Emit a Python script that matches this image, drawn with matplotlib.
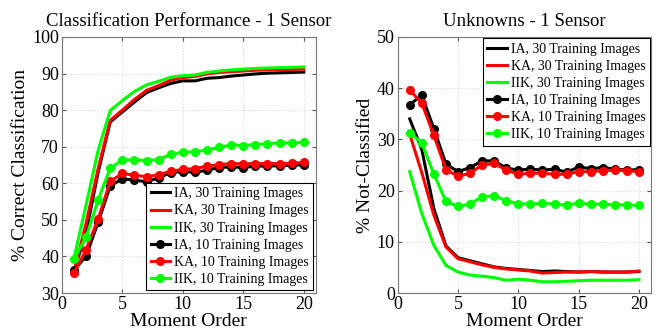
import numpy as np
import matplotlib
matplotlib.use('agg')
from matplotlib import pyplot as plt

plt.rcParams['font.family'] = ['Liberation Serif', 'DejaVu Serif']

# moment orders
order = np.arange(1, 21)

# left panel: % correct classification
cc_ia30 = [36.0, 46.5, 63.0, 76.8, 79.5, 82.2, 84.8, 86.1, 87.3, 88.0,
           88.0, 88.7, 88.9, 89.3, 89.6, 89.9, 90.1, 90.2, 90.3, 90.4]
cc_ka30 = [35.8, 49.0, 64.0, 77.2, 80.0, 82.9, 85.4, 86.7, 88.2, 88.9,
           89.2, 89.9, 90.3, 90.5, 90.7, 90.9, 91.0, 91.1, 91.1, 91.2]
cc_iik30 = [39.5, 54.0, 69.0, 79.9, 82.6, 85.1, 86.9, 87.9, 89.0, 89.4,
            89.6, 90.3, 90.7, 91.0, 91.2, 91.4, 91.5, 91.6, 91.7, 91.8]
cc_ia10 = [36.2, 40.1, 49.3, 59.3, 61.2, 60.9, 60.4, 61.5, 62.9, 63.2,
           63.0, 63.6, 64.3, 64.5, 64.3, 64.7, 64.7, 64.8, 65.0, 65.0]
cc_ka10 = [35.4, 41.8, 50.2, 60.5, 62.7, 62.2, 61.8, 62.3, 63.3, 63.8,
           64.0, 64.7, 65.1, 65.4, 65.3, 65.4, 65.4, 65.4, 65.5, 65.7]
cc_iik10 = [39.3, 45.2, 55.5, 64.1, 66.4, 66.4, 66.2, 66.5, 67.9, 68.5,
            68.6, 69.1, 69.8, 70.5, 70.3, 70.6, 70.8, 71.1, 71.0, 71.2]

# right panel: % not classified
nc_ia30 = [34.0, 28.0, 16.5, 9.2, 6.9, 6.3, 5.7, 5.1, 4.8, 4.6,
           4.4, 4.2, 4.3, 4.2, 4.1, 4.2, 4.1, 4.1, 4.1, 4.2]
nc_ka30 = [31.0, 23.5, 15.2, 9.0, 6.7, 6.1, 5.5, 5.0, 4.7, 4.5,
           4.3, 3.9, 4.0, 4.1, 4.1, 4.2, 4.1, 4.1, 4.1, 4.3]
nc_iik30 = [23.7, 15.5, 9.3, 5.4, 4.1, 3.5, 3.3, 3.0, 2.5, 2.7,
            2.5, 2.2, 2.2, 2.3, 2.4, 2.5, 2.5, 2.5, 2.5, 2.6]
nc_ia10 = [36.8, 38.6, 32.1, 25.2, 23.7, 24.5, 25.8, 25.8, 24.4, 24.0,
           24.2, 24.0, 24.2, 23.6, 24.6, 24.3, 24.5, 24.2, 24.0, 24.1]
nc_ka10 = [39.6, 37.1, 30.8, 24.1, 22.8, 23.4, 25.0, 25.3, 24.0, 23.2,
           23.4, 23.4, 23.2, 23.2, 23.7, 23.7, 23.9, 24.0, 23.9, 23.7]
nc_iik10 = [31.3, 29.3, 23.2, 17.9, 16.9, 17.4, 18.8, 19.0, 18.0, 17.4,
            17.4, 17.5, 17.4, 17.1, 17.6, 17.3, 17.4, 17.2, 17.2, 17.1]

labels = ['IA, 30 Training Images', 'KA, 30 Training Images',
          'IIK, 30 Training Images', 'IA, 10 Training Images',
          'KA, 10 Training Images', 'IIK, 10 Training Images']
colors = ['black', 'red', '#00ff00']


def style_axes(ax):
    ax.set_xlim(0, 21)
    ax.set_xticks([0, 5, 10, 15, 20])
    ax.grid(True, color='#d8d8d8', linestyle=':', linewidth=0.8)
    ax.set_axisbelow(True)
    ax.tick_params(direction='in', top=True, right=True, labelsize=13,
                   length=3, color='#555555', pad=2)
    for sp in ax.spines.values():
        sp.set_color('#777777')
        sp.set_linewidth(0.8)
    ax.set_xlabel('Moment Order', fontsize=14, labelpad=0)


def draw(ax, series):
    for ys, c in zip(series[:3], colors):
        ax.plot(order, ys, color=c, lw=2.2)
    for ys, c in zip(series[3:], colors):
        ax.plot(order, ys, color=c, lw=2.2, marker='o', ms=5.5)


fig = plt.figure(figsize=(6.65, 3.33), dpi=100)
ax1 = fig.add_axes([0.093, 0.12, 0.382, 0.769])
ax2 = fig.add_axes([0.598, 0.12, 0.381, 0.769])

draw(ax1, [cc_ia30, cc_ka30, cc_iik30, cc_ia10, cc_ka10, cc_iik10])
style_axes(ax1)
ax1.set_ylim(30, 100)
ax1.set_title('Classification Performance - 1 Sensor', fontsize=13.5, pad=8)
ax1.set_ylabel('% Correct Classification', fontsize=14, labelpad=2)
leg1 = ax1.legend(labels, loc='lower right', fontsize=10, fancybox=False,
                  edgecolor='black', framealpha=1, borderaxespad=0.2,
                  handlelength=1.4, handletextpad=0.3, labelspacing=0.3,
                  borderpad=0.3)
leg1.get_frame().set_linewidth(0.8)

draw(ax2, [nc_ia30, nc_ka30, nc_iik30, nc_ia10, nc_ka10, nc_iik10])
style_axes(ax2)
ax2.set_ylim(0, 50)
ax2.set_title('Unknowns - 1 Sensor', fontsize=13.5, pad=8)
ax2.set_ylabel('% Not-Classified', fontsize=14, labelpad=2)
leg2 = ax2.legend(labels, loc='upper right', fontsize=10, fancybox=False,
                  edgecolor='black', framealpha=1, borderaxespad=0.1,
                  handlelength=1.4, handletextpad=0.3, labelspacing=0.3,
                  borderpad=0.3)
leg2.get_frame().set_linewidth(0.8)

fig.savefig('out.png', dpi=100)
plt.close(fig)
